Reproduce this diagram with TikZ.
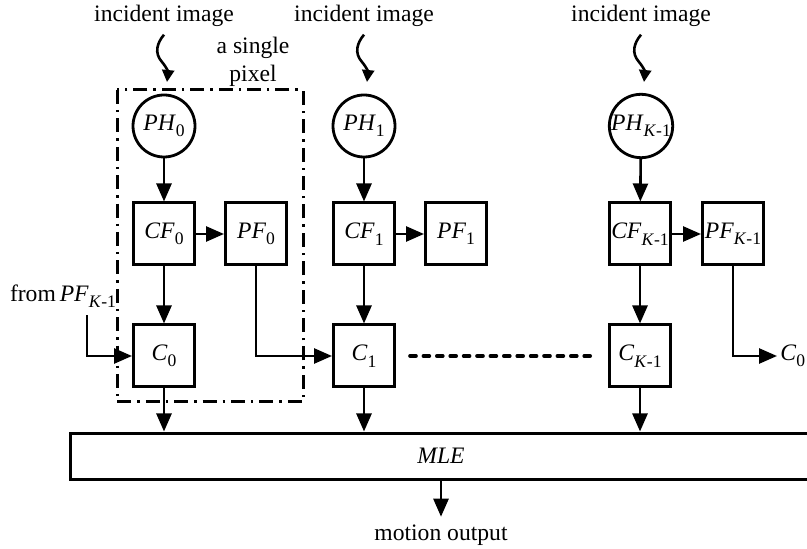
\documentclass[tikz,border=0pt]{standalone}
\usepackage{fontspec}
\setmainfont{Liberation Serif}
\usetikzlibrary{calc}
\usetikzlibrary{arrows.meta}
\usetikzlibrary{positioning}

\newcommand{\lbl}[2]{\textit{#1}\raisebox{-3.2pt}{\fontsize{8.8}{9}\selectfont #2}}
\newcommand{\km}{\textit{K}-1}

\begin{document}
\begin{tikzpicture}[x=0.5pt,y=-0.5pt,line width=1.3pt,
        font=\fontsize{11.8}{14}\selectfont,
        >={Triangle[length=9pt,width=7.5pt]},
        blk/.style={draw,line width=1.5pt,minimum width=30.5pt,minimum height=31pt,inner sep=0pt},
        ph/.style={draw,circle,line width=1.4pt,minimum size=31pt,inner sep=0pt},
        wave/.style={-{Triangle[length=6pt,width=6pt]}},
        pixbox/.style={line width=1.5pt,dash pattern=on 7pt off 3pt on 1.2pt off 3pt},
        more/.style={line width=1.8pt,line cap=round,dash pattern=on 3pt off 3.7pt}]
    \useasboundingbox (0,0) rectangle (807,549);

    % one column per pixel
    \foreach \n/\x in {0/164,1/364,K/641} {
        \node (inc\n) at (\x,16) {incident image};
        \draw[wave] (inc\n.south) .. controls (\x-7,43) and (\x-10,53) .. (\x-2,62)
                                  .. controls (\x+3,68) and (\x+4,72) .. (\x+3,82);
    }
    \node[ph]  (PH0) at (164,126) {\lbl{PH}{0}};
    \node[ph]  (PH1) at (364,126) {\lbl{PH}{1}};
    \node[ph]  (PHK) at (641,126) {\lbl{PH}{\km}};
    \node[blk] (CF0) at (164,234) {\lbl{CF}{0}};
    \node[blk] (CF1) at (364,234) {\lbl{CF}{1}};
    \node[blk] (CFK) at (640,234) {\lbl{CF}{\km}};
    \node[blk] (PF0) at (256,234) {\lbl{PF}{0}};
    \node[blk] (PF1) at (456,234) {\lbl{PF}{1}};
    \node[blk] (PFK) at (733,234) {\lbl{PF}{\km}};
    \node[blk] (C0)  at (164,356) {\lbl{C}{0}};
    \node[blk] (C1)  at (364,356) {\lbl{C}{1}};
    \node[blk] (CK)  at (640,356) {\lbl{C}{\km}};

    \node[draw,line width=1.5pt,minimum width=371pt,minimum height=23pt] (MLE) at (441,456) {\textit{MLE}};
    \node (out) at (441,535) {motion output};

    \node (from) at (63,296) {from\,\lbl{PF}{\km}};
    \node[anchor=west,inner sep=1pt] (Cnext) at (777,356) {\lbl{C}{0}};

    \node[align=center] (pix) at (253,62) {a single\\pixel};
    \draw[pixbox] (117,90) rectangle (303,402);

    \foreach \n in {0,1,K} {
        \draw[->] (PH\n) -- (CF\n);
        \draw[->] (CF\n) -- (PF\n);
        \draw[->] (CF\n) -- (C\n);
        \draw[->] (C\n) -- (C\n |- MLE.north);
    }
    \draw[->] ($(from.south)+(24,0)$) |- (C0);
    \draw[->] (PF0) |- (C1);
    \draw[->] (PFK) |- (Cnext);
    \draw[more,shorten <=7pt,shorten >=7pt] (C1) -- (CK);
    \draw[->] (MLE) -- (out);
\end{tikzpicture}
\end{document}
